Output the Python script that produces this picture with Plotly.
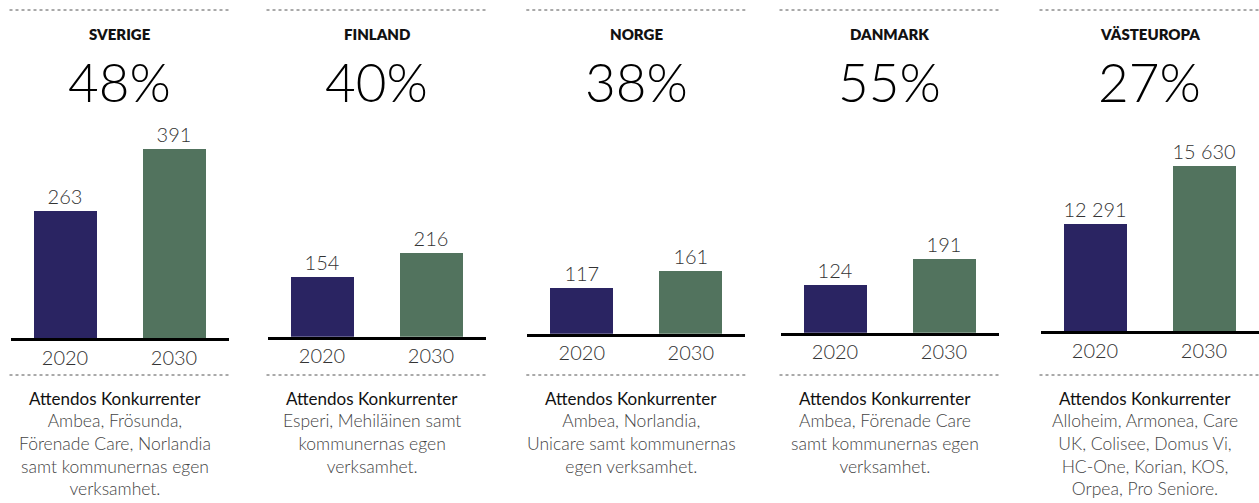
import plotly.graph_objects as go

# ---- data ----
regions = ["SVERIGE", "FINLAND", "NORGE", "DANMARK", "VÄSTEUROPA"]
growth = ["48%", "40%", "38%", "55%", "27%"]
years = ["2020", "2030"]
values_2020 = [263, 154, 117, 124, 12291]
values_2030 = [391, 216, 161, 191, 15630]
heading = "Attendos Konkurrenter"
competitors = [
    ["Ambea, Frösunda,", "Förenade Care, Norlandia", "samt kommunernas egen", "verksamhet."],
    ["Esperi, Mehiläinen samt", "kommunernas egen", "verksamhet."],
    ["Ambea, Norlandia,", "Unicare samt kommunernas", "egen verksamhet."],
    ["Ambea, Förenade Care", "samt kommunernas egen", "verksamhet."],
    ["Alloheim, Armonea, Care", "UK, Colisee, Domus Vi,", "HC-One, Korian, KOS,", "Orpea, Pro Seniore."],
]

# ---- layout / style ----
W, H = 1259, 503
NAVY = "#2a2462"
GREEN = "#52735e"
FONT = "Lato"
panel_x0 = [10.5, 267.5, 527.3, 780.5, 1040.5]
panel_w = 218
baseline_px = [338, 336.7, 333.7, 332.7, 331.3]
top_px = 120
y_ranges = [[0, 451], [0, 557], [0, 545], [0, 550], [6145, 18247]]


def fmt(v):
    return f"{v:,}".replace(",", " ")


def px_x(p):
    return p / W


def px_y(p):
    return 1 - p / H


fig = go.Figure()
shapes = []
annotations = []

for i in range(5):
    ax = "" if i == 0 else str(i + 1)
    vals = [values_2020[i], values_2030[i]]
    fig.add_trace(go.Bar(
        x=[0, 1], y=vals,
        xaxis="x" + ax, yaxis="y" + ax,
        marker=dict(color=[NAVY, GREEN], line=dict(width=0)),
        width=0.57,
        text=[fmt(v) for v in vals],
        textposition="outside",
        cliponaxis=False,
        textfont=dict(family=FONT, size=20, color="#333333", weight=300),
        hoverinfo="skip",
        showlegend=False,
    ))
    x0 = panel_x0[i]
    x1 = x0 + panel_w
    fig.layout["xaxis" + ax] = dict(
        domain=[px_x(x0), px_x(x1)], range=[-0.5, 1.5],
        anchor="y" + ax,
        tickvals=[0, 1], ticktext=years,
        showgrid=False, zeroline=False,
        showline=True, linecolor="#000000", linewidth=2.5,
        ticks="", tickfont=dict(family=FONT, size=20, color="#333333", weight=300),
        fixedrange=True,
    )
    fig.layout["yaxis" + ax] = dict(
        domain=[px_y(baseline_px[i]), px_y(top_px)],
        range=y_ranges[i], anchor="x" + ax,
        visible=False, fixedrange=True,
    )
    cx = (x0 + x1) / 2
    # dotted separators
    for yy in (10, 375):
        shapes.append(dict(type="line", xref="paper", yref="paper",
                           x0=px_x(x0 - 1), x1=px_x(min(x1 + 2, W)),
                           y0=px_y(yy), y1=px_y(yy),
                           line=dict(color="#555555", width=1, dash="dot")))
    # title
    annotations.append(dict(xref="paper", yref="paper", x=px_x(cx), y=px_y(34),
                            text=regions[i], showarrow=False,
                            xanchor="center", yanchor="middle",
                            font=dict(family=FONT, size=15, color="#111111", weight=800)))
    # big percentage
    annotations.append(dict(xref="paper", yref="paper", x=px_x(cx), y=px_y(82),
                            text=growth[i], showarrow=False,
                            xanchor="center", yanchor="middle",
                            font=dict(family=FONT, size=53, color="#000000", weight=300)))
    # heading below
    annotations.append(dict(xref="paper", yref="paper", x=px_x(cx - 5), y=px_y(398),
                            text=heading, showarrow=False,
                            xanchor="center", yanchor="middle",
                            font=dict(family=FONT, size=17, color="#111111", weight=400)))
    annotations.append(dict(xref="paper", yref="paper", x=px_x(cx - 5), y=px_y(408),
                            text="<br>".join(competitors[i]), showarrow=False,
                            xanchor="center", yanchor="top", align="center",
                            font=dict(family=FONT, size=17.5, color="#444444", weight=300)))

fig.update_layout(
    width=W, height=H,
    margin=dict(l=0, r=0, t=0, b=0),
    paper_bgcolor="white", plot_bgcolor="white",
    shapes=shapes, annotations=annotations,
    bargap=0,
)

fig.write_html("out.html", config={"displayModeBar": False},
               post_script="document.body.style.margin='0';document.body.style.overflow='hidden';")
